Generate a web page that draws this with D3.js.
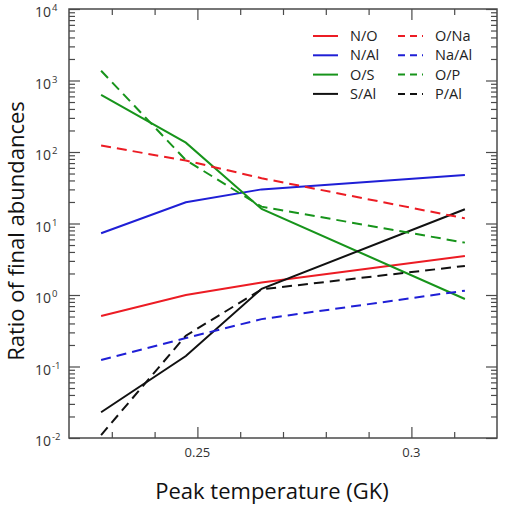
<!DOCTYPE html>
<html>
<head>
<meta charset="utf-8">
<script src="https://cdn.jsdelivr.net/npm/d3@7"></script>
<style>
  html, body { margin: 0; padding: 0; background: #fff; }
  svg { display: block; }
  text { font-family: "Open Sans", "Noto Sans", sans-serif; }
</style>
</head>
<body>
<div id="chart"></div>
<script>
// Peak temperature (GK) of the four runs
const temps = [0.2275, 0.2473, 0.265, 0.3125]

// Ratio of final abundances, one list per ratio
const ratioNO = [0.51, 1.0, 1.5, 3.5]
const ratioNAl = [7.3, 19.8, 30, 47.7]
const ratioOS = [627, 135, 16, 0.88]
const ratioSAl = [0.0229, 0.14, 1.22, 15.8]
const ratioONa = [123, 76, 43, 11.8]
const ratioNaAl = [0.123, 0.25, 0.46, 1.15]
const ratioOP = [1371, 77, 17.2, 5.4]
const ratioPAl = [0.011, 0.27, 1.2, 2.55]

const seriesNames = ["N/O", "N/Al", "O/S", "S/Al", "O/Na", "Na/Al", "O/P", "P/Al"]
const seriesValues = [ratioNO, ratioNAl, ratioOS, ratioSAl, ratioONa, ratioNaAl, ratioOP, ratioPAl]

const xMajorTicks = [0.25, 0.3]
const xMinorTicks = [0.23, 0.24, 0.26, 0.27, 0.28, 0.29, 0.31]
const yExponents = [-2, -1, 0, 1, 2, 3, 4]

const colors = {
  "N/O": "#ec1c24", "O/Na": "#ec1c24",
  "N/Al": "#1f1fd6", "Na/Al": "#1f1fd6",
  "O/S": "#17941b", "O/P": "#17941b",
  "S/Al": "#111111", "P/Al": "#111111"
}
const dashed = new Set(["O/Na", "Na/Al", "O/P", "P/Al"])

const width = 507
const height = 505
const margin = { top: 9, right: 10, bottom: 67, left: 69 }
const axisColor = "#4a4a4a"

const svg = d3.select("#chart")
  .append("svg")
  .attr("width", width)
  .attr("height", height)

const x = d3.scaleLinear()
  .domain([0.22, 0.32])
  .range([margin.left, width - margin.right])

const y = d3.scaleLog()
  .domain([1e-2, 1e4])
  .range([height - margin.bottom, margin.top])

// clip so nothing runs past the frame
svg.append("clipPath").attr("id", "clip")
  .append("rect")
  .attr("x", margin.left).attr("y", margin.top)
  .attr("width", x.range()[1] - x.range()[0])
  .attr("height", y.range()[0] - y.range()[1])

// lines
const line = d3.line()
  .x((d, i) => x(temps[i]))
  .y(d => y(d))

const plot = svg.append("g").attr("clip-path", "url(#clip)")

plot.selectAll(".series")
  .data(seriesNames)
  .enter()
  .append("path")
  .attr("class", "series")
  .attr("fill", "none")
  .attr("stroke", d => colors[d])
  .attr("stroke-width", 2)
  .attr("stroke-dasharray", d => dashed.has(d) ? "10,6" : null)
  .attr("d", (d, i) => line(seriesValues[i]))

// minor log ticks for y
const yMinor = []
yExponents.slice(0, -1).forEach(e => {
  for (let m = 2; m <= 9; m++) yMinor.push(m * Math.pow(10, e))
})
const yMajor = yExponents.map(e => Math.pow(10, e))

function styleAxis(g) {
  g.select(".domain").remove()
  g.selectAll("line").attr("stroke", axisColor).attr("stroke-width", 1.2)
  g.selectAll("text").remove()
}

const bottomY = y.range()[0]
const topY = y.range()[1]
const leftX = x.range()[0]
const rightX = x.range()[1]

// bottom / top ticks, pointing inward
svg.append("g").attr("transform", `translate(0,${bottomY})`)
  .call(d3.axisBottom(x).tickValues(xMajorTicks).tickSize(-11)).call(styleAxis)
svg.append("g").attr("transform", `translate(0,${bottomY})`)
  .call(d3.axisBottom(x).tickValues(xMinorTicks).tickSize(-6)).call(styleAxis)
svg.append("g").attr("transform", `translate(0,${topY})`)
  .call(d3.axisTop(x).tickValues(xMajorTicks).tickSize(-11)).call(styleAxis)
svg.append("g").attr("transform", `translate(0,${topY})`)
  .call(d3.axisTop(x).tickValues(xMinorTicks).tickSize(-6)).call(styleAxis)

// left / right ticks, pointing inward
svg.append("g").attr("transform", `translate(${leftX},0)`)
  .call(d3.axisLeft(y).tickValues(yMajor).tickSize(-11)).call(styleAxis)
svg.append("g").attr("transform", `translate(${leftX},0)`)
  .call(d3.axisLeft(y).tickValues(yMinor).tickSize(-6)).call(styleAxis)
svg.append("g").attr("transform", `translate(${rightX},0)`)
  .call(d3.axisRight(y).tickValues(yMajor).tickSize(-11)).call(styleAxis)
svg.append("g").attr("transform", `translate(${rightX},0)`)
  .call(d3.axisRight(y).tickValues(yMinor).tickSize(-6)).call(styleAxis)

// frame
svg.append("rect")
  .attr("x", leftX).attr("y", topY)
  .attr("width", rightX - leftX).attr("height", bottomY - topY)
  .attr("fill", "none")
  .attr("stroke", axisColor)
  .attr("stroke-width", 1.5)

// x tick labels
svg.selectAll(".xlabel")
  .data(xMajorTicks)
  .enter()
  .append("text")
  .attr("x", d => x(d))
  .attr("y", bottomY + 19)
  .attr("text-anchor", "middle")
  .attr("fill", "#333")
  .attr("font-size", "13px")
  .text(d => d3.format("")(d))

// y tick labels: 10 with superscript exponent
const ylab = svg.selectAll(".ylabel")
  .data(yExponents)
  .enter()
  .append("g")
  .attr("transform", d => `translate(${leftX - 18},${y(Math.pow(10, d)) + 8})`)

ylab.append("text")
  .attr("text-anchor", "end")
  .attr("fill", "#333")
  .attr("font-size", "14px")
  .text("10")

ylab.append("text")
  .attr("x", 1)
  .attr("y", -6)
  .attr("fill", "#333")
  .attr("font-size", "9.5px")
  .text(d => d)

// axis titles
svg.append("text")
  .attr("x", 272)
  .attr("y", 499)
  .attr("text-anchor", "middle")
  .attr("fill", "#111")
  .attr("font-size", "22px")
  .text("Peak temperature (GK)")

svg.append("text")
  .attr("transform", "translate(24,231) rotate(-90)")
  .attr("text-anchor", "middle")
  .attr("fill", "#111")
  .attr("font-size", "22px")
  .text("Ratio of final abundances")

// legend, two columns
const legendOrder = [["N/O", "N/Al", "O/S", "S/Al"], ["O/Na", "Na/Al", "O/P", "P/Al"]]
const legendX = [313, 398]
const legendY0 = 36
const legendStep = 19.3

legendOrder.forEach((col, ci) => {
  const items = svg.selectAll(".leg" + ci)
    .data(col)
    .enter()
    .append("g")
    .attr("transform", (d, i) => `translate(${legendX[ci]},${legendY0 + i * legendStep})`)

  items.append("line")
    .attr("x1", 0).attr("x2", 25)
    .attr("stroke", d => colors[d])
    .attr("stroke-width", 2)
    .attr("stroke-dasharray", d => dashed.has(d) ? "7,5" : null)

  items.append("text")
    .attr("x", 37)
    .attr("y", 5)
    .attr("fill", "#222")
    .attr("font-size", "14.5px")
    .text(d => d)
})
</script>
</body>
</html>
